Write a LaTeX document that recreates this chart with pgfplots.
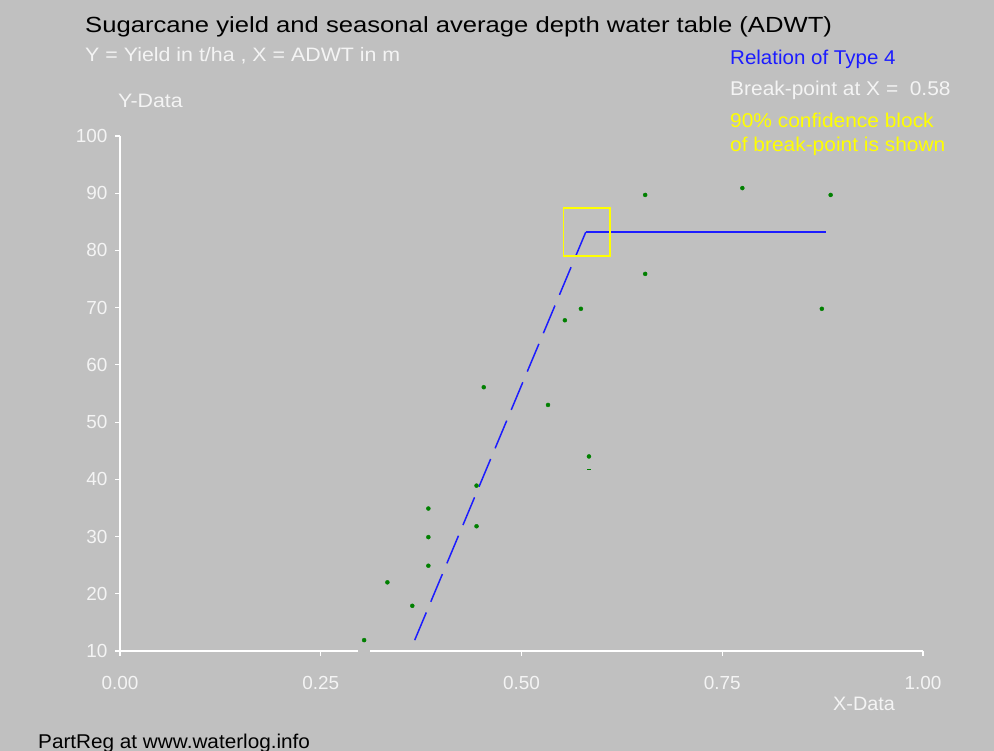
\documentclass[border=0pt]{standalone}
\usepackage{pgfplots}
\pgfplotsset{compat=1.18}
\usepackage{fontspec}
\setmainfont{Liberation Sans}

\definecolor{bg}{HTML}{C0C0C0}
\definecolor{ptgreen}{HTML}{008000}
\definecolor{lineblue}{HTML}{1C1CFF}
\definecolor{softwhite}{HTML}{F4F4F4}
\definecolor{txtyellow}{HTML}{FFFF00}

% text set a little wider than Liberation Sans, as on the screen capture
\newcommand\wtxt[3]{\scalebox{#1}[1]{\fontsize{#2}{#2}\selectfont #3}}

\begin{document}
\begin{tikzpicture}
  \fill[bg] (0,0) rectangle (994bp,751bp);
  \begin{axis}[
      at={(120bp,100bp)}, anchor=south west,
      scale only axis, width=803bp, height=515bp,
      xmin=0, xmax=1, ymin=10, ymax=100,
      axis lines*=left,
      axis line style={white, line width=1.5bp},
      tick style={white, line width=1.2bp},
      tick align=outside, major tick length=5bp,
      xtick={0,0.25,0.5,0.75,1},
      ytick={10,20,...,100},
      /pgf/number format/assume math mode=true,
      ticklabel style={font=\fontsize{19}{19}\selectfont, text=softwhite},
      xticklabel style={yshift=-17bp, /pgf/number format/.cd, fixed, fixed zerofill, precision=2},
      yticklabel style={anchor=east, xshift=-4bp},
      clip=false,
  ]
  % gap in the x axis line under the low point
  \addplot[only marks, mark=square*, mark size=5.5bp, bg,
      mark options={yscale=0.4}] coordinates {(0.303,10)};

  \addplot[only marks, mark=*, mark size=2bp, ptgreen] coordinates {
      (0.304,11.9) (0.333,22.0) (0.364,17.9)
      (0.384,34.9) (0.384,29.9) (0.384,24.9)
      (0.444,38.9) (0.444,31.8) (0.453,56.1)
      (0.533,53.0) (0.554,67.8) (0.574,69.8)
      (0.584,44.0) (0.654,89.7) (0.654,75.9)
      (0.775,90.9) (0.885,89.7) (0.874,69.8)
  };
  \addplot[only marks, mark=-, mark size=2bp, ptgreen,
      mark options={line width=1bp}] coordinates {(0.584,41.7)};

  % broken-line relation
  \addplot[lineblue, line width=1.5bp, dash pattern=on 30bp off 11.6bp]
      coordinates {(0.367,11.9) (0.580,83.2)};
  \addplot[lineblue, line width=1.5bp]
      coordinates {(0.580,83.2) (0.879,83.2)};

  % confidence block
  \addplot[txtyellow, line width=1.5bp, line cap=rect]
      coordinates {(0.552,79.0) (0.610,79.0) (0.610,87.4) (0.552,87.4) (0.552,79.0)};
  \end{axis}

  \begin{scope}[every node/.style={inner sep=0pt, anchor=base west}]
    \node[text=black] at (85bp,718bp)
        {\wtxt{1.17}{22}{Sugarcane yield and seasonal average depth water table (ADWT)}};
    \node[text=softwhite] at (85bp,689bp) {\wtxt{1.10}{19.5}{Y = Yield in t/ha , X = ADWT in m}};
    \node[text=softwhite] at (118bp,643bp) {\wtxt{1.10}{19.5}{Y-Data}};
    \node[text=lineblue] at (730bp,686bp) {\wtxt{1.03}{20}{Relation of Type 4}};
    \node[text=softwhite] at (730bp,655bp) {\wtxt{1.05}{20}{Break-point at X = \ 0.58}};
    \node[text=txtyellow] at (730bp,623bp) {\wtxt{1.05}{20}{90\% confidence block}};
    \node[text=txtyellow] at (730bp,599bp) {\wtxt{1.05}{20}{of break-point is shown}};
    \node[text=softwhite] at (833bp,40bp) {\wtxt{1.02}{19.5}{X-Data}};
    \node[text=black] at (38bp,3bp) {\wtxt{1.04}{20}{PartReg at www.waterlog.info}};
  \end{scope}
  \pgfresetboundingbox
  \useasboundingbox (0,0) rectangle (994bp,751bp);
\end{tikzpicture}
\end{document}
